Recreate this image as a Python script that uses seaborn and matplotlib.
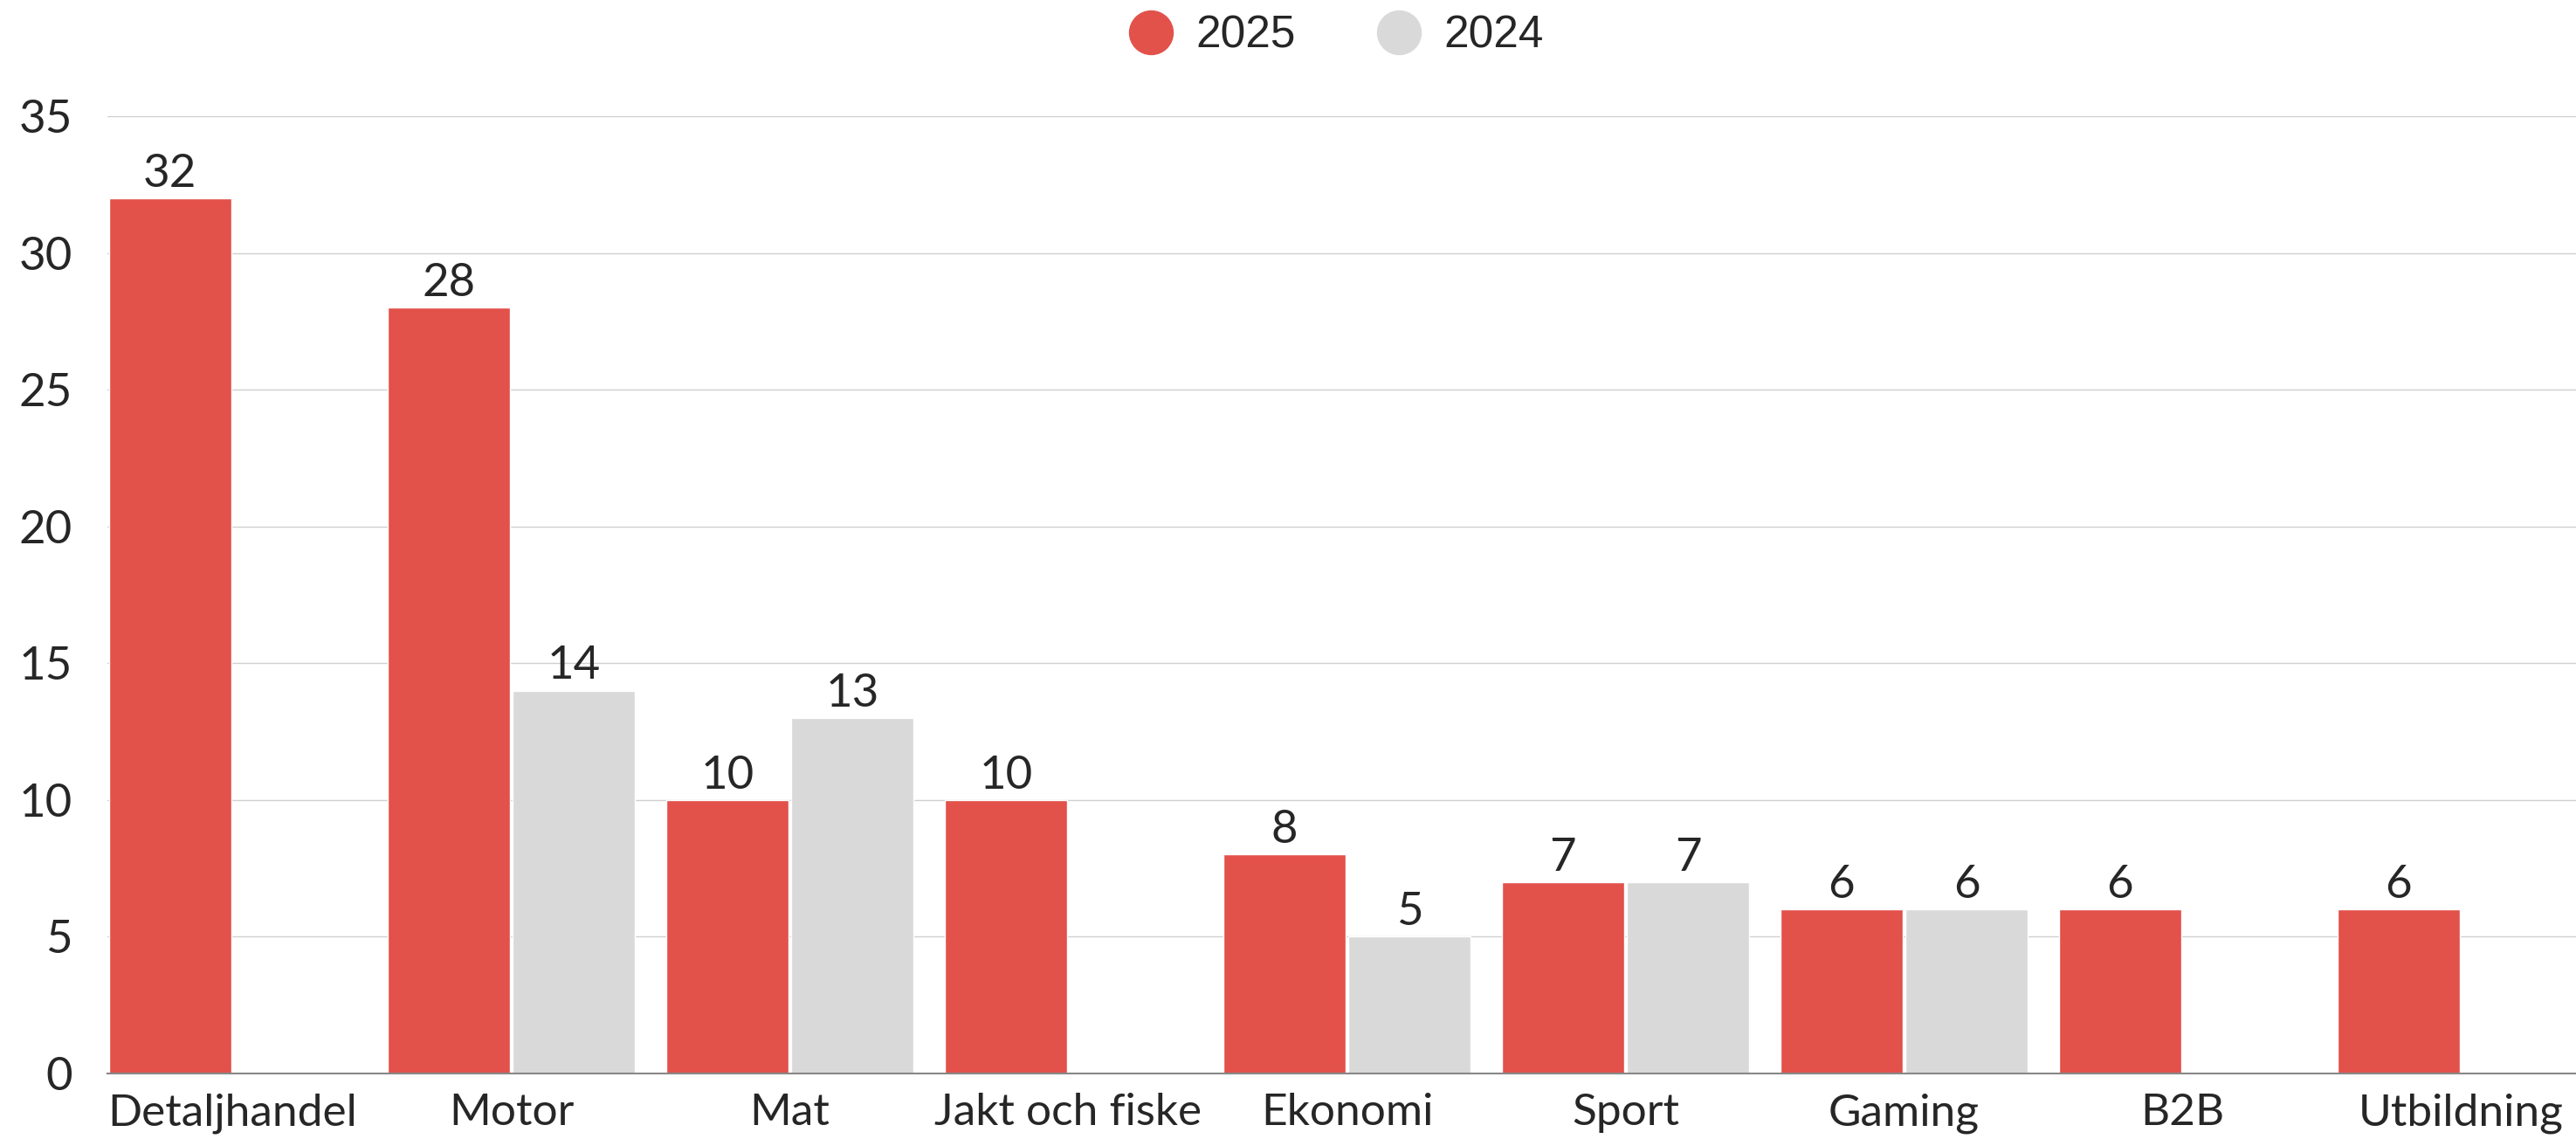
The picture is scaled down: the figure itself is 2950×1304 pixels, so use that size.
import matplotlib
matplotlib.use("Agg")
import matplotlib.pyplot as plt
from matplotlib.lines import Line2D
import numpy as np
import pandas as pd
import seaborn as sns

# data
categories = ["Detaljhandel", "Motor", "Mat", "Jakt och fiske", "Ekonomi",
              "Sport", "Gaming", "B2B", "Utbildning"]
values_2025 = [32, 28, 10, 10, 8, 7, 6, 6, 6]
values_2024 = [np.nan, 14, 13, np.nan, 5, 7, 6, np.nan, np.nan]
years = ["2025", "2024"]
colors = {"2025": "#E2514A", "2024": "#D9D9D9"}

df = pd.concat([
    pd.DataFrame({"kategori": categories, "antal": values_2025, "år": "2025"}),
    pd.DataFrame({"kategori": categories, "antal": values_2024, "år": "2024"}),
]).dropna()

sns.set_style("white")
plt.rcParams["font.family"] = ["Lato", "DejaVu Sans"]

fig = plt.figure(figsize=(29.5, 13.04), dpi=100)
ax = fig.add_axes([123 / 2950, 1 - 1229 / 1304, 2871 / 2950, 1096 / 1304])

sns.barplot(data=df, x="kategori", y="antal", hue="år", order=categories,
            hue_order=years, palette=colors, width=0.9, gap=0.024,
            saturation=1, legend=False, ax=ax)

# värden ovanför staplarna
for c in ax.containers:
    ax.bar_label(c, fmt="%d", padding=3, fontsize=38)

ax.set_xlim(-0.45, 8.55)
ax.set_ylim(0, 35)
ax.set_yticks(range(0, 36, 5))
ax.set_xlabel("")
ax.set_ylabel("")
ax.yaxis.grid(True, color="#D0D0D0", linewidth=1.0)
ax.set_axisbelow(True)
for s in ["top", "right", "left"]:
    ax.spines[s].set_visible(False)
ax.spines["bottom"].set_color("#888888")
ax.spines["bottom"].set_linewidth(1.5)
ax.tick_params(axis="y", length=0, pad=29, labelsize=38)
ax.tick_params(axis="x", length=0, pad=16, labelsize=37)

# legend
handles = [Line2D([], [], marker="o", linestyle="", markersize=37,
                  markerfacecolor=colors[y], markeredgewidth=0) for y in years]
fig.legend(handles, years, loc="center", bbox_to_anchor=(1530 / 2950, 1 - 41 / 1304),
           ncol=2, frameon=False, handlelength=1.0, handletextpad=0.5,
           columnspacing=1.8, prop={"family": ["Liberation Sans"], "size": 37})

fig.savefig("out.png", dpi=100)
